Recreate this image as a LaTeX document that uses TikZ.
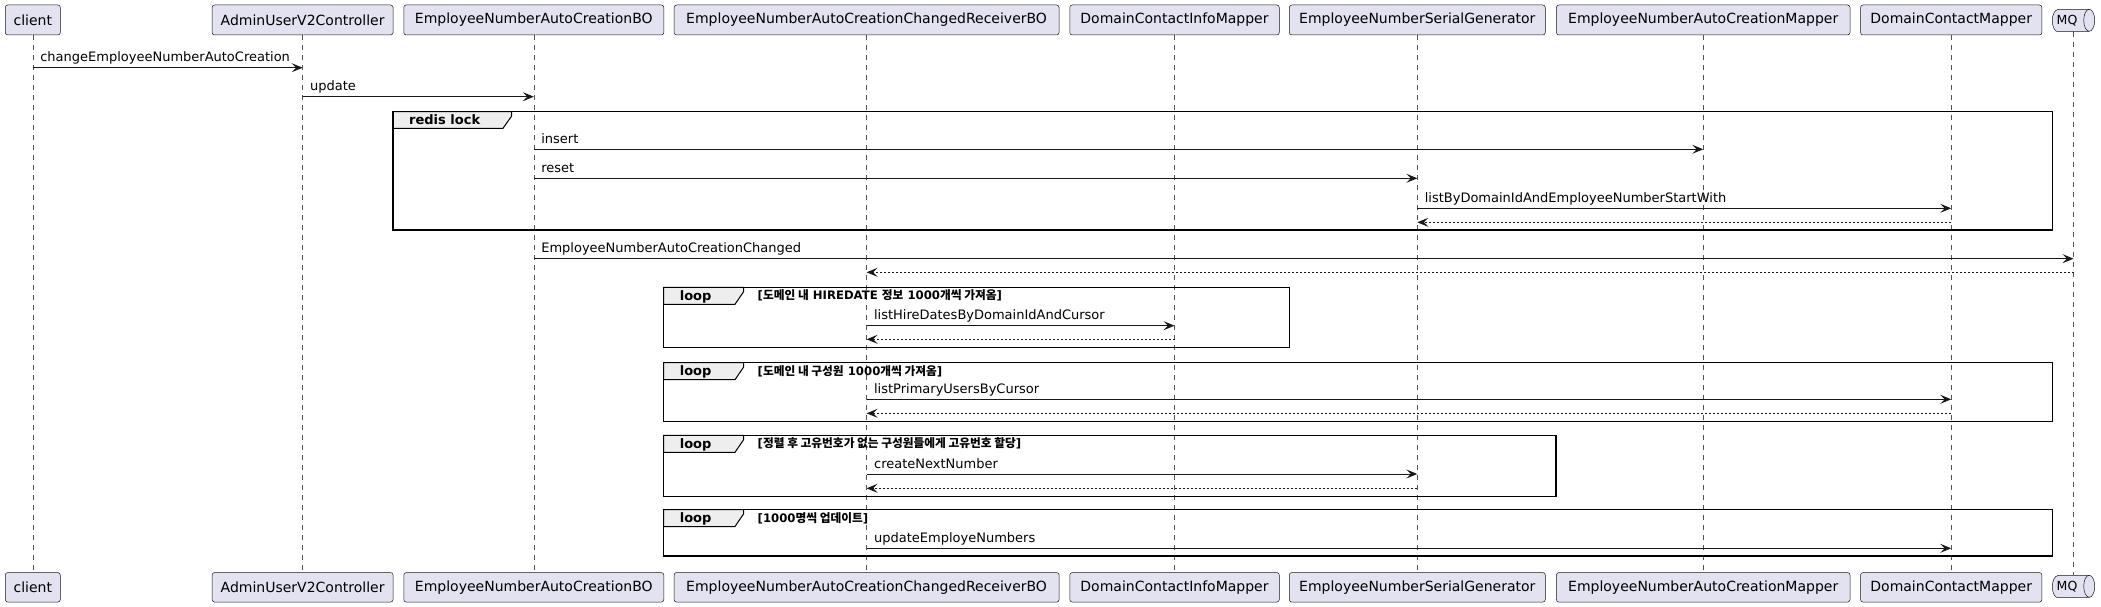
\documentclass[tikz,border=0pt]{standalone}
\usepackage{fontspec}
\setmainfont{DejaVu Sans}
\newfontfamily\krfont{Noto Sans CJK KR}
\usetikzlibrary{arrows.meta}
\definecolor{partfill}{HTML}{E2E2F0}
\definecolor{lineclr}{HTML}{181818}
\definecolor{tabfill}{HTML}{EEEEEE}
\newcommand{\hk}[1]{{\krfont #1}}
\newcommand{\grp}[9]{%
  \draw[tabshape] (#2,-#3) -- (#6,-#3) -- (#6,-#3-4.5) -- (#6-8.5,-#7) -- (#2,-#7) -- cycle;
  \draw[frameline] (#2,-#3) rectangle (#4,-#5);
  \node[ftitle] (#1t) at (#2+16,-#7+4) {#8};
  \node[cond] (#1c) at (#6+14,-#7+4.5) {#9};
}
\begin{document}
\begin{tikzpicture}[x=1pt,y=1pt,
  part/.style={draw=lineclr, line width=0.5pt, fill=partfill, rounded corners=2.5pt, minimum height=30pt, inner sep=0pt, font=\fontsize{14}{16}\selectfont, text=black},
  life/.style={draw=lineclr!75, line width=0.5pt, dash pattern=on 5pt off 5pt},
  msg/.style={draw=lineclr, line width=1pt, -{Stealth[length=11pt,width=9pt,inset=4.5pt]}},
  ret/.style={msg, dash pattern=on 2pt off 2pt},
  lbl/.style={font=\fontsize{13}{15}\selectfont, anchor=base west, inner sep=0pt, xshift=7pt, yshift=6pt},
  frameline/.style={draw=black, line width=1.5pt},
  tabshape/.style={draw=black, line width=1pt, fill=tabfill},
  ftitle/.style={font=\bfseries\fontsize{13}{15}\selectfont, anchor=base west, inner sep=0pt},
  cond/.style={font=\bfseries\fontsize{11.7}{13}\selectfont, anchor=base west, inner sep=0pt}
]
\useasboundingbox (0,0) rectangle (2101,-607);

% participants (top)
\node[part, minimum width=55pt] (client) at (32.8,-20) {client};
\node[part, minimum width=181pt] (admin) at (302.6,-20) {AdminUserV2Controller};
\node[part, minimum width=260pt] (bo) at (533.8,-20) {EmployeeNumberAutoCreationBO};
\node[part, minimum width=385pt] (recv) at (866.6,-20) {EmployeeNumberAutoCreationChangedReceiverBO};
\node[part, minimum width=209.5pt] (dcim) at (1174.5,-20) {DomainContactInfoMapper};
\node[part, minimum width=256pt] (serial) at (1417.3,-20) {EmployeeNumberSerialGenerator};
\node[part, minimum width=293.6pt] (acm) at (1703.2,-20) {EmployeeNumberAutoCreationMapper};
\node[part, minimum width=181.4pt] (dcm) at (1951.2,-20) {DomainContactMapper};
\node[inner sep=0pt, minimum width=42pt, minimum height=22pt] (mq) at (2073.5,-20.5) {};

% participants (bottom)
\node[part, minimum width=55pt, minimum height=29.5pt] (client2) at (32.8,-587.3) {client};
\node[part, minimum width=181pt, minimum height=29.5pt] (admin2) at (302.6,-587.3) {AdminUserV2Controller};
\node[part, minimum width=260pt, minimum height=29.5pt] (bo2) at (533.8,-587.3) {EmployeeNumberAutoCreationBO};
\node[part, minimum width=385pt, minimum height=29.5pt] (recv2) at (866.6,-587.3) {EmployeeNumberAutoCreationChangedReceiverBO};
\node[part, minimum width=209.5pt, minimum height=29.5pt] (dcim2) at (1174.5,-587.3) {DomainContactInfoMapper};
\node[part, minimum width=256pt, minimum height=29.5pt] (serial2) at (1417.3,-587.3) {EmployeeNumberSerialGenerator};
\node[part, minimum width=293.6pt, minimum height=29.5pt] (acm2) at (1703.2,-587.3) {EmployeeNumberAutoCreationMapper};
\node[part, minimum width=181.4pt, minimum height=29.5pt] (dcm2) at (1951.2,-587.3) {DomainContactMapper};
\node[inner sep=0pt, minimum width=42pt, minimum height=22pt] (mq2) at (2073.5,-586.5) {};

% lifelines
\foreach \p in {client,admin,bo,recv,dcim,serial,acm,dcm,mq}{
  \draw[life] (\p.south) -- (\p2.north);
}

% queue shapes for MQ
\foreach \q in {mq,mq2}{
  \draw[draw=lineclr, line width=0.5pt, fill=partfill]
    ([xshift=5.5pt]\q.north west) -- ([xshift=-5.5pt]\q.north east)
    arc[start angle=90, end angle=-90, x radius=5.5pt, y radius=11pt]
    -- ([xshift=5.5pt]\q.south west)
    arc[start angle=270, end angle=90, x radius=5.5pt, y radius=11pt] -- cycle;
  \draw[draw=lineclr, line width=0.5pt]
    ([xshift=-5.5pt]\q.north east) arc[start angle=90, end angle=270, x radius=5.5pt, y radius=11pt];
}
\node[font=\fontsize{12.5}{14}\selectfont, inner sep=0pt] (mqtext) at ([xshift=-6.5pt]mq.center) {MQ};
\node[font=\fontsize{12.5}{14}\selectfont, inner sep=0pt] (mqtext2) at ([xshift=-6.5pt]mq2.center) {MQ};

% groups
\grp{redis}{393}{111.7}{2052.5}{230}{511.5}{128.3}{redis lock}{}
\grp{loopa}{663.6}{287.3}{1289.7}{347.7}{743.5}{304.3}{loop}{[\hk{도메인 내} HIREDATE \hk{정보} 1000\hk{개씩 가져옴}]}
\grp{loopb}{663.6}{362.7}{2052.5}{421.3}{743.5}{379.7}{loop}{[\hk{도메인 내 구성원} 1000\hk{개씩 가져옴}]}
\grp{loopc}{663.6}{435.3}{1556}{496.5}{743.5}{452.3}{loop}{[\hk{정렬 후 고유번호가 없는 구성원들에게 고유번호 할당}]}
\grp{loopd}{663.6}{509.5}{2052.5}{556}{743.5}{526.5}{loop}{[1000\hk{명씩 업데이트}]}

% messages
\draw[msg] (client |- 0,-67.7) -- (admin |- 0,-67.7) node[lbl,pos=0] (l1) {changeEmployeeNumberAutoCreation};
\draw[msg] (admin |- 0,-96.7) -- (bo |- 0,-96.7) node[lbl,pos=0] (l2) {update};
\draw[msg] (bo |- 0,-149.3) -- (acm |- 0,-149.3) node[lbl,pos=0] (l3) {insert};
\draw[msg] (bo |- 0,-178.3) -- (serial |- 0,-178.3) node[lbl,pos=0] (l4) {reset};
\draw[msg] (serial |- 0,-208.3) -- (dcm |- 0,-208.3) node[lbl,pos=0] (l5) {listByDomainIdAndEmployeeNumberStartWith};
\draw[ret] (dcm |- 0,-222.3) -- (serial |- 0,-222.3);
\draw[msg] (bo |- 0,-258.7) -- (mq |- 0,-258.7) node[lbl,pos=0] (l7) {EmployeeNumberAutoCreationChanged};
\draw[ret] (mq |- 0,-272.3) -- (recv |- 0,-272.3);
\draw[msg] (recv |- 0,-325.7) -- (dcim |- 0,-325.7) node[lbl,pos=0] (l9) {listHireDatesByDomainIdAndCursor};
\draw[ret] (dcim |- 0,-339.3) -- (recv |- 0,-339.3);
\draw[msg] (recv |- 0,-399.3) -- (dcm |- 0,-399.3) node[lbl,pos=0] (l11) {listPrimaryUsersByCursor};
\draw[ret] (dcm |- 0,-413.3) -- (recv |- 0,-413.3);
\draw[msg] (recv |- 0,-474) -- (serial |- 0,-474) node[lbl,pos=0] (l13) {createNextNumber};
\draw[ret] (serial |- 0,-488.3) -- (recv |- 0,-488.3);
\draw[msg] (recv |- 0,-548.3) -- (dcm |- 0,-548.3) node[lbl,pos=0] (l15) {updateEmployeNumbers};
\end{tikzpicture}
\end{document}
